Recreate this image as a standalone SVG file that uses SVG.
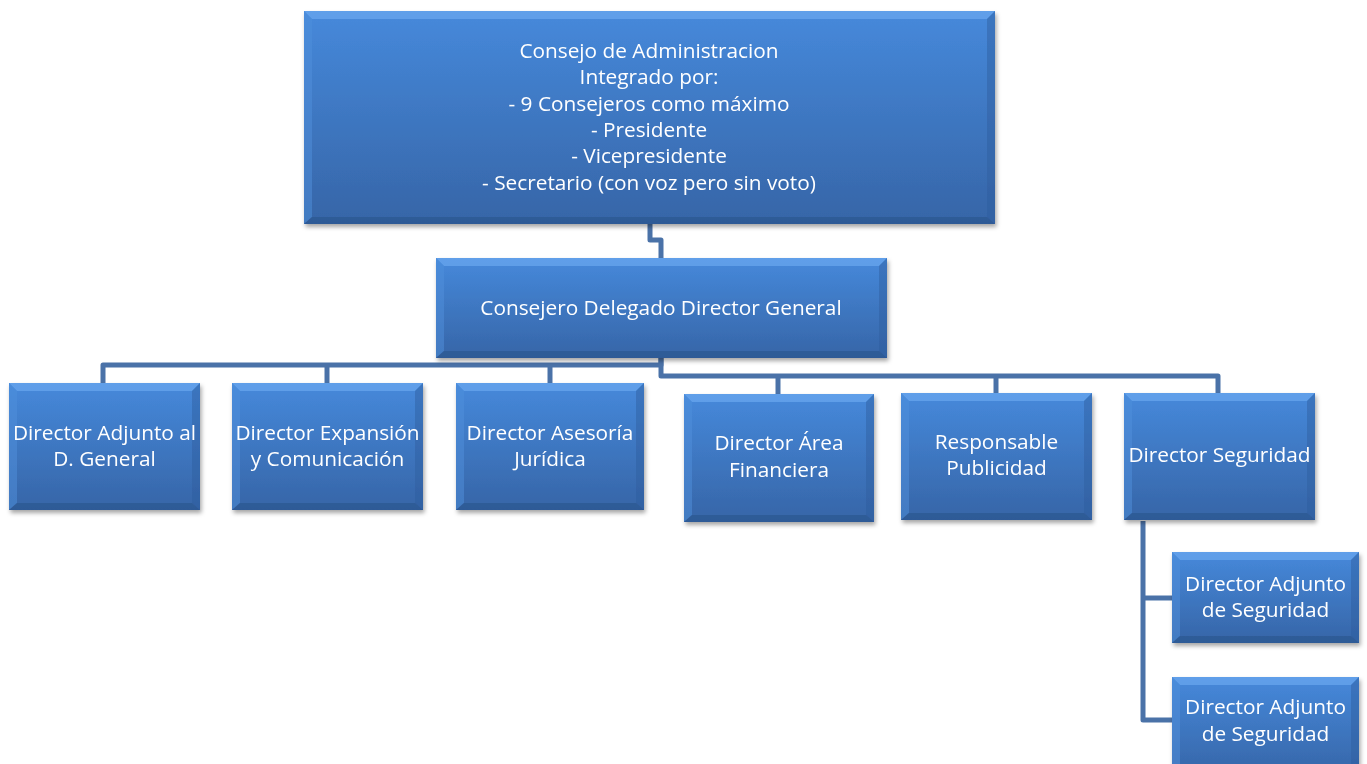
<svg xmlns="http://www.w3.org/2000/svg" width="1367" height="764" viewBox="0 0 1367 764">
<defs>
<linearGradient id="body" x1="0" y1="0" x2="0" y2="1">
<stop offset="0" stop-color="#4689db"/>
<stop offset="1" stop-color="#3665a7"/>
</linearGradient>
<filter id="sh" x="-10%" y="-10%" width="120%" height="130%">
<feDropShadow dx="1.5" dy="3" stdDeviation="2" flood-color="#000" flood-opacity="0.35"/>
</filter>
</defs>
<style>
.box{filter:url(#sh)}
.b{fill:url(#body)}
.bt{fill:#6ba8f0;opacity:0.7}
.bl{fill:#4f8fdc;opacity:0.5}
.br{fill:#2f5e9e;opacity:0.45}
.bb{fill:#274f86;opacity:0.5}
.t{font-family:"Open Sans","Noto Sans",sans-serif;font-size:20.8px;fill:#ffffff;text-anchor:middle}
.c{fill:none;stroke:#4a72a8;stroke-width:5;stroke-linejoin:round;stroke-linecap:butt}
</style>
<rect width="1367" height="764" fill="#ffffff"/>
<g id="connectors">
<path class="c" d="M650,224 V240 H661 V258"/>
<path class="c" d="M661,358 V365 H103 V383"/>
<path class="c" d="M327,365 V383"/>
<path class="c" d="M550,365 V383"/>
<path class="c" d="M661,358 V376 H1218 V393"/>
<path class="c" d="M778,376 V394"/>
<path class="c" d="M996,376 V393"/>
<path class="c" d="M1143,521 V720 H1172"/>
<path class="c" d="M1143,598 H1172"/>
</g>
<g id="n-consejo" class="box">
<rect class="b" x="304" y="11" width="691" height="213"/>
<polygon class="bt" points="304,11 995,11 987,19 312,19"/>
<polygon class="bl" points="304,11 312,19 312,217 304,224"/>
<polygon class="br" points="995,11 987,19 987,217 995,224"/>
<polygon class="bb" points="304,224 312,217 987,217 995,224"/>
<text class="t" x="649" y="58">Consejo de Administracion</text>
<text class="t" x="649" y="84">Integrado por:</text>
<text class="t" x="649" y="111">- 9 Consejeros como máximo</text>
<text class="t" x="649" y="137">- Presidente</text>
<text class="t" x="649" y="163">- Vicepresidente</text>
<text class="t" x="649" y="190">- Secretario (con voz pero sin voto)</text>
</g>
<g id="n-delegado" class="box">
<rect class="b" x="436" y="258" width="451" height="100"/>
<polygon class="bt" points="436,258 887,258 879,266 444,266"/>
<polygon class="bl" points="436,258 444,266 444,351 436,358"/>
<polygon class="br" points="887,258 879,266 879,351 887,358"/>
<polygon class="bb" points="436,358 444,351 879,351 887,358"/>
<text class="t" x="661" y="315">Consejero Delegado Director General</text>
</g>
<g id="n-adjunto" class="box">
<rect class="b" x="9" y="383" width="191" height="127"/>
<polygon class="bt" points="9,383 200,383 192,391 17,391"/>
<polygon class="bl" points="9,383 17,391 17,503 9,510"/>
<polygon class="br" points="200,383 192,391 192,503 200,510"/>
<polygon class="bb" points="9,510 17,503 192,503 200,510"/>
<text class="t" x="104.5" y="440">Director Adjunto al</text>
<text class="t" x="104.5" y="466">D. General</text>
</g>
<g id="n-expansion" class="box">
<rect class="b" x="232" y="383" width="191" height="127"/>
<polygon class="bt" points="232,383 423,383 415,391 240,391"/>
<polygon class="bl" points="232,383 240,391 240,503 232,510"/>
<polygon class="br" points="423,383 415,391 415,503 423,510"/>
<polygon class="bb" points="232,510 240,503 415,503 423,510"/>
<text class="t" x="327.5" y="440">Director Expansión</text>
<text class="t" x="327.5" y="466">y Comunicación</text>
</g>
<g id="n-juridica" class="box">
<rect class="b" x="456" y="383" width="188" height="127"/>
<polygon class="bt" points="456,383 644,383 636,391 464,391"/>
<polygon class="bl" points="456,383 464,391 464,503 456,510"/>
<polygon class="br" points="644,383 636,391 636,503 644,510"/>
<polygon class="bb" points="456,510 464,503 636,503 644,510"/>
<text class="t" x="550" y="440">Director Asesoría</text>
<text class="t" x="550" y="466">Jurídica</text>
</g>
<g id="n-financiera" class="box">
<rect class="b" x="684" y="394" width="190" height="128"/>
<polygon class="bt" points="684,394 874,394 866,402 692,402"/>
<polygon class="bl" points="684,394 692,402 692,515 684,522"/>
<polygon class="br" points="874,394 866,402 866,515 874,522"/>
<polygon class="bb" points="684,522 692,515 866,515 874,522"/>
<text class="t" x="779" y="450">Director Área</text>
<text class="t" x="779" y="477">Financiera</text>
</g>
<g id="n-publicidad" class="box">
<rect class="b" x="901" y="393" width="191" height="127"/>
<polygon class="bt" points="901,393 1092,393 1084,401 909,401"/>
<polygon class="bl" points="901,393 909,401 909,513 901,520"/>
<polygon class="br" points="1092,393 1084,401 1084,513 1092,520"/>
<polygon class="bb" points="901,520 909,513 1084,513 1092,520"/>
<text class="t" x="996.5" y="449">Responsable</text>
<text class="t" x="996.5" y="475">Publicidad</text>
</g>
<g id="n-seguridad" class="box">
<rect class="b" x="1124" y="393" width="191" height="127"/>
<polygon class="bt" points="1124,393 1315,393 1307,401 1132,401"/>
<polygon class="bl" points="1124,393 1132,401 1132,513 1124,520"/>
<polygon class="br" points="1315,393 1307,401 1307,513 1315,520"/>
<polygon class="bb" points="1124,520 1132,513 1307,513 1315,520"/>
<text class="t" x="1219.5" y="462">Director Seguridad</text>
</g>
<g id="n-adjseg1" class="box">
<rect class="b" x="1172" y="552" width="187" height="91"/>
<polygon class="bt" points="1172,552 1359,552 1351,560 1180,560"/>
<polygon class="bl" points="1172,552 1180,560 1180,636 1172,643"/>
<polygon class="br" points="1359,552 1351,560 1351,636 1359,643"/>
<polygon class="bb" points="1172,643 1180,636 1351,636 1359,643"/>
<text class="t" x="1265.5" y="591">Director Adjunto</text>
<text class="t" x="1265.5" y="617">de Seguridad</text>
</g>
<g id="n-adjseg2" class="box">
<rect class="b" x="1172" y="677" width="187" height="100"/>
<polygon class="bt" points="1172,677 1359,677 1351,685 1180,685"/>
<polygon class="bl" points="1172,677 1180,685 1180,777 1172,777"/>
<polygon class="br" points="1359,677 1351,685 1351,777 1359,777"/>
<text class="t" x="1265.5" y="714">Director Adjunto</text>
<text class="t" x="1265.5" y="741">de Seguridad</text>
</g>
</svg>
